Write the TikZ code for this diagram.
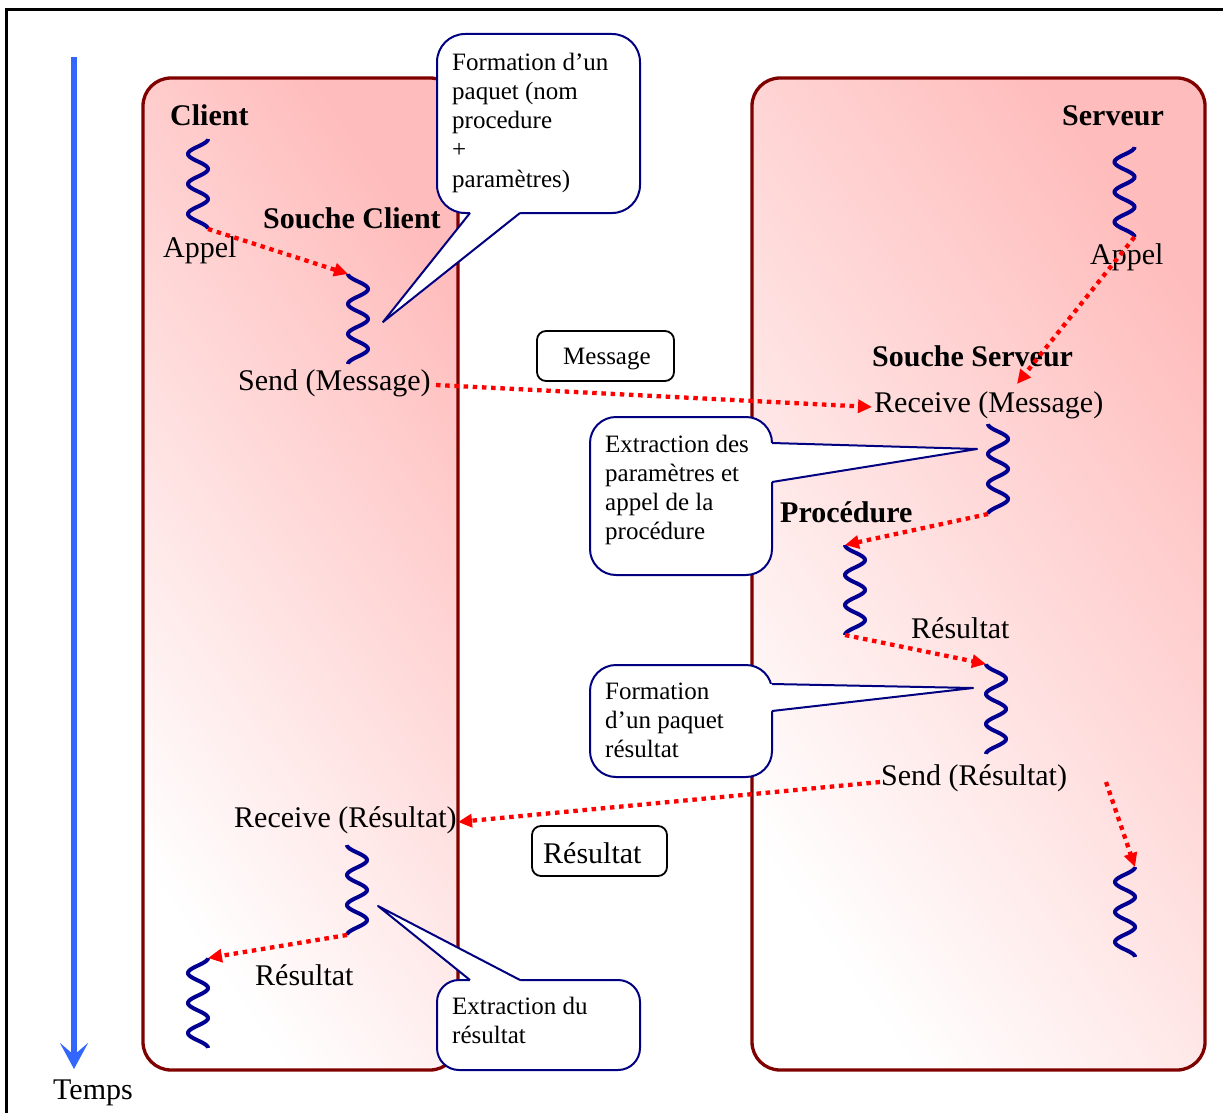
\documentclass[tikz,border=0pt]{standalone}
\usepackage{fontspec}
\setmainfont{Liberation Serif}
\usetikzlibrary{arrows.meta}

\definecolor{laneborder}{RGB}{128,0,0}
\definecolor{lanepink}{RGB}{255,188,188}
\definecolor{coilblue}{RGB}{0,0,145}
\definecolor{bubbleblue}{RGB}{0,0,128}
\definecolor{timeblue}{RGB}{51,102,255}
\definecolor{msgred}{RGB}{255,0,0}

\tikzset{
  lbl/.style={inner sep=0pt, anchor=base west, font=\fontsize{30}{36}\selectfont},
  lblb/.style={inner sep=0pt, anchor=base west, font=\fontsize{30}{36}\selectfont\bfseries},
  note/.style={inner sep=0pt, anchor=base west, align=left, font=\fontsize{25}{29.3}\selectfont},
  lane/.style={draw=laneborder, line width=3.3pt, rounded corners=28pt,
    top color=lanepink, bottom color=white, shading angle=-55},
  coil/.style={coilblue, line width=4pt},
  msg/.style={msgred, line width=4.3pt, dash pattern=on 4.5pt off 4.7pt,
    -{Triangle[length=14pt,width=13pt]}},
  bubble/.style={draw=bubbleblue, fill=white, line width=2pt},
  tailline/.style={draw=bubbleblue, line width=2pt, line join=round},
  tag/.style={draw=black, line width=1.8pt, rounded corners=9pt}
}

% coil starting and ending on its right side: name, centre x, top y
\newcommand\coilright[3]{%
  \draw[coil] plot[domain=0:3, samples=121, smooth] ({#2+10*cos(360*\x)},{#3+30*\x});
  \coordinate (#1-top) at (#2+10,#3);
  \coordinate (#1-bot) at (#2+10,#3+90);
}
% coil starting and ending on its left side: name, centre x, top y
\newcommand\coilleft[3]{%
  \draw[coil] plot[domain=0:3, samples=121, smooth] ({#2-10*cos(360*\x)},{#3+30*\x});
  \coordinate (#1-top) at (#2-10,#3);
  \coordinate (#1-bot) at (#2-10,#3+90);
}

\begin{document}
\begin{tikzpicture}[x=1pt, y=-1pt]
  \useasboundingbox (0,0) rectangle (1223,1113);

  % outer frame
  \draw[black, line width=3pt] (6,1113) -- (6,10) -- (1223,10);

  % time axis
  \coordinate (t0) at (74,57);
  \coordinate (t1) at (74,1069);
  \draw[timeblue, line width=5.5pt, -{Stealth[length=26pt,width=28pt,inset=12pt]}] (t0) -- (t1);
  \node[lbl, anchor=base] (temps) at (93,1099) {Temps};

  % client and server lanes
  \draw[lane] (143,78) rectangle (458,1070);
  \draw[lane] (752,78) rectangle (1205,1070);

  % coils (threads of execution)
  \coilright{c1}{198}{139}
  \coilleft{c2}{358}{274}
  \coilright{s1}{1124.5}{147}
  \coilleft{s2}{998}{424}
  \coilleft{s3}{855}{545}
  \coilleft{s4}{996}{664}
  \coilright{s5}{1125}{867}
  \coilleft{c3}{357}{845}
  \coilright{c4}{198}{958}

  % labels
  \node[lblb] (client) at (170,125) {Client};
  \node[lbl] (appelc) at (163,257) {Appel};
  \node[lblb] (souchec) at (263,228) {Souche Client};
  \node[lbl] (sendmsg) at (238,390) {Send (Message)};
  \node[lblb] (serveur) at (1062,125) {Serveur};
  \node[lbl] (appels) at (1090,264) {Appel};
  \node[lblb] (souches) at (872,366) {Souche Serveur};
  \node[lbl] (recvmsg) at (874,412) {Receive (Message)};
  \node[lblb] (proc) at (780,522) {Procédure};
  \node[lbl] (resproc) at (911,638) {Résultat};
  \node[lbl] (sendres) at (881,785) {Send (Résultat)};
  \node[lbl] (recvres) at (234,827) {Receive (Résultat)};
  \node[lbl] (resclient) at (255,985) {Résultat};

  % messages on the wire
  \draw[tag] (537,331) rectangle (674,381);
  \node[note] (msgtag) at (563,364) {Message};
  \draw[tag] (532,826) rectangle (667,876);
  \node[lbl] (restag) at (543,863) {Résultat};

  % control flow
  \coordinate (m1a) at (436,385);
  \coordinate (m1b) at (872,407);
  \coordinate (apb) at (1017,384);
  \coordinate (m2a) at (880,782);
  \coordinate (m2b) at (458,822);
  \coordinate (endr) at (1106,782);
  \draw[msg] (c1-bot) -- (c2-top);
  \draw[msg] (m1a) -- (m1b);
  \draw[msg] (s1-bot) -- (apb);
  \draw[msg] (s2-bot) -- (s3-top);
  \draw[msg] (s3-bot) -- (s4-top);
  \draw[msg] (m2a) -- (m2b);
  \draw[msg] (endr) -- (s5-top);
  \draw[msg] (c3-bot) -- (c4-top);

  % callout: packing the request (text anchored on its last baseline)
  \draw[bubble, rounded corners=28pt] (437,34) rectangle (640,213);
  \coordinate (k1a) at (470,213);
  \coordinate (k1b) at (520,213);
  \coordinate (k1t) at (383,322);
  \fill[white] (470,209) -- (k1a) -- (k1t) -- (k1b) -- (520,209) -- cycle;
  \draw[tailline] (k1a) -- (k1t) -- (k1b);
  \node[note] (n1) at (452,187.2) {Formation d’un\\paquet (nom\\procedure\\+\\paramètres)};

  % callout: unpacking the request
  \draw[bubble, rounded corners=26pt] (590,417) rectangle (772,575);
  \coordinate (k2a) at (772,443);
  \coordinate (k2b) at (772,482);
  \coordinate (k2t) at (977,449);
  \fill[white] (768,443) -- (k2a) -- (k2t) -- (k2b) -- (768,482) -- cycle;
  \draw[tailline] (k2a) -- (k2t) -- (k2b);
  \node[note] (n2) at (605,539.9) {Extraction des\\paramètres et\\appel de la\\procédure};

  % callout: packing the result
  \draw[bubble, rounded corners=26pt] (590,665) rectangle (772,777);
  \coordinate (k3a) at (772,684);
  \coordinate (k3b) at (772,711);
  \coordinate (k3t) at (973,688);
  \fill[white] (768,684) -- (k3a) -- (k3t) -- (k3b) -- (768,711) -- cycle;
  \draw[tailline] (k3a) -- (k3t) -- (k3b);
  \node[note] (n3) at (605,757.6) {Formation\\d’un paquet\\résultat};

  % callout: unpacking the result
  \draw[bubble, rounded corners=22pt] (437,980) rectangle (640,1070);
  \coordinate (k4a) at (470,980);
  \coordinate (k4b) at (520,980);
  \coordinate (k4t) at (378,906);
  \fill[white] (470,984) -- (k4a) -- (k4t) -- (k4b) -- (520,984) -- cycle;
  \draw[tailline] (k4a) -- (k4t) -- (k4b);
  \node[note] (n4) at (452,1043.3) {Extraction du\\résultat};
\end{tikzpicture}
\end{document}
